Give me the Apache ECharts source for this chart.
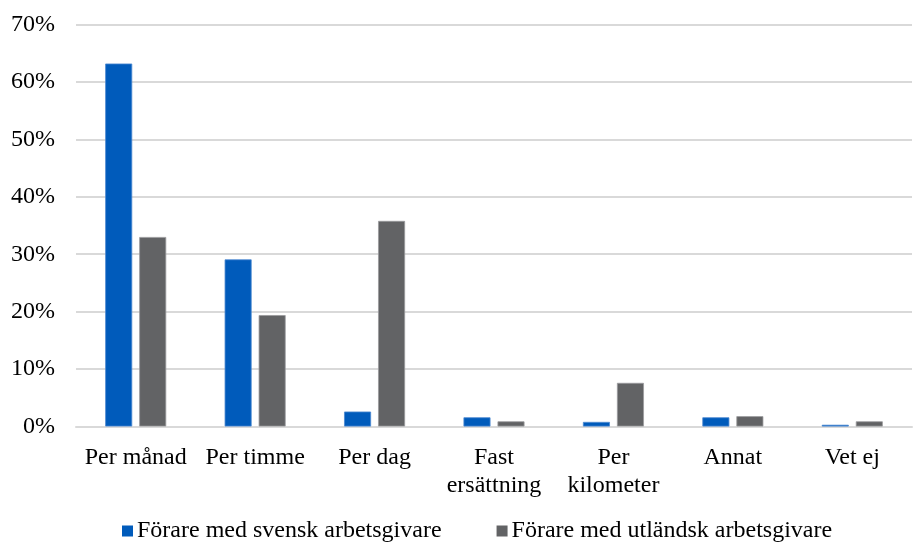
<!DOCTYPE html>
<html>
<head>
<meta charset="utf-8">
<script src="https://cdn.jsdelivr.net/npm/echarts@6/dist/echarts.min.js"></script>
<style>
  html, body { margin: 0; padding: 0; background: #fff; }
  #chart { width: 913px; height: 545px; }
</style>
</head>
<body>
<div id="chart"></div>
<script>
// Categories of wage form and share of drivers per group (percent)
const categories = ['Per månad', 'Per timme', 'Per dag', 'Fast\nersättning', 'Per\nkilometer', 'Annat', 'Vet ej'];
const svensk = [63.2, 29.1, 2.6, 1.6, 0.8, 1.6, 0.3];
const utlandsk = [33.0, 19.4, 35.8, 0.9, 7.6, 1.8, 0.9];
const seriesNames = ['Förare med svensk arbetsgivare', 'Förare med utländsk arbetsgivare'];

const font = '"Liberation Serif", "Times New Roman", serif';
const chart = echarts.init(document.getElementById('chart'), null, { renderer: 'canvas' });

chart.setOption({
  animation: false,
  textStyle: { fontFamily: font },
  grid: { left: 76, right: 1, top: 24.5, bottom: 118.5, containLabel: false },
  legend: {
    bottom: -3,
    left: 117,
    itemWidth: 11,
    itemHeight: 11,
    itemGap: 55,
    icon: 'rect',
    itemStyle: { borderWidth: 0 },
    textStyle: { fontFamily: font, fontSize: 24, color: '#000', padding: [0, 0, 0, -1] },
    data: seriesNames
  },
  xAxis: {
    type: 'category',
    data: categories,
    axisTick: { show: false },
    axisLine: { lineStyle: { color: '#d9d9d9', width: 2 } },
    axisLabel: { fontFamily: font, fontSize: 24, color: '#000', margin: 17, lineHeight: 28, interval: 0 }
  },
  yAxis: {
    type: 'value',
    min: 0,
    max: 70,
    interval: 10,
    axisLine: { show: false },
    axisTick: { show: false },
    splitLine: { lineStyle: { color: '#d9d9d9', width: 2 } },
    axisLabel: { fontFamily: font, fontSize: 24, color: '#000', margin: 21, formatter: '{value}%' }
  },
  series: [
    {
      name: seriesNames[0],
      type: 'bar',
      data: svensk,
      barWidth: 27,
      barGap: '26%',
      itemStyle: { color: '#005bbb', borderColor: '#4a88d0', borderWidth: 0.8 }
    },
    {
      name: seriesNames[1],
      type: 'bar',
      data: utlandsk,
      barWidth: 27,
      itemStyle: { color: '#626365', borderColor: '#9a9b9d', borderWidth: 0.8 }
    }
  ]
});
</script>
</body>
</html>
